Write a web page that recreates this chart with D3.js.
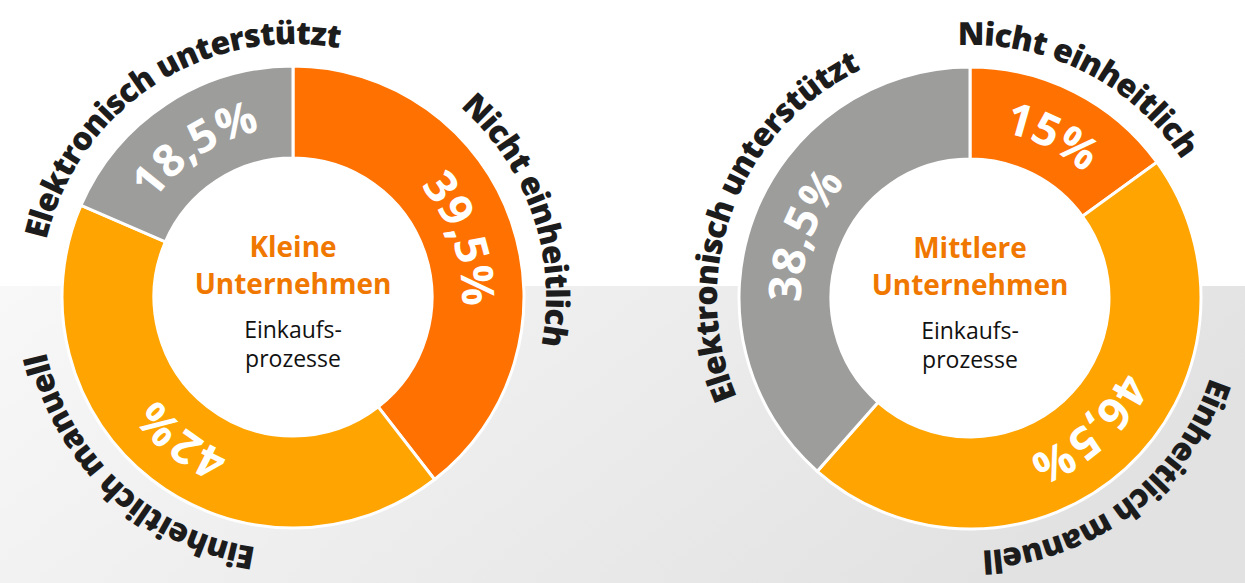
<!DOCTYPE html>
<html>
<head>
<meta charset="utf-8">
<script src="https://cdn.jsdelivr.net/npm/d3@7"></script>
<style>
  html, body { margin: 0; padding: 0; background: #fff; }
  svg { display: block; font-family: "Open Sans", sans-serif; }
  .pct { fill: #fff; font-weight: 700; font-size: 45px; }
  .cat { fill: #1c1c1c; font-weight: 800; font-size: 32px; letter-spacing: -0.8px; }
  .title { fill: #f07800; font-weight: 700; font-size: 28px; }
  .sub { fill: #111; font-size: 23px; }
</style>
</head>
<body>
<div id="chart"></div>
<script>
// data
const categories = ['Nicht einheitlich', 'Einheitlich manuell', 'Elektronisch unterstützt'];
const kleineValues = [39.5, 42, 18.5];
const mittlereValues = [15, 46.5, 38.5];
const titles = [['Kleine', 'Unternehmen'], ['Mittlere', 'Unternehmen']];
const subtitle = ['Einkaufs-', 'prozesse'];
const colors = ['#ff7100', '#ffa400', '#9d9d9c'];

const WIDTH = 1245;
const HEIGHT = 583;
const R_OUTER = 231;
const R_INNER = 139;
const CENTERS = [[293, 297], [970, 298]];
// small nudge of the outer labels along the ring (degrees)
const LABEL_SHIFT = [0, 5, 0];

const fmt = v => String(v).replace('.', ',') + '%';

const $svg = d3.select('#chart').append('svg')
  .attr('width', WIDTH)
  .attr('height', HEIGHT);

// background: grey band on the lower half
const grad = $svg.append('defs').append('linearGradient')
  .attr('id', 'bg-grad')
  .attr('x1', 0).attr('x2', 1).attr('y1', 0).attr('y2', 0.3);
grad.append('stop').attr('offset', 0).attr('stop-color', '#f8f8f8');
grad.append('stop').attr('offset', 1).attr('stop-color', '#e2e2e2');

$svg.append('rect')
  .attr('x', 0).attr('y', 286)
  .attr('width', WIDTH).attr('height', HEIGHT - 286)
  .attr('fill', 'url(#bg-grad)');

const pie = d3.pie().sort(null).value(d => d);
const arc = d3.arc().innerRadius(R_INNER).outerRadius(R_OUTER);

// clockwise circle starting opposite of `mid` so the middle of the path lies at `mid`
function circlePath(r, mid) {
  const a0 = mid - Math.PI;
  const p0 = [r * Math.sin(a0), -r * Math.cos(a0)];
  const p1 = [-p0[0], -p0[1]];
  return `M${p0[0]},${p0[1]}A${r},${r} 0 1 1 ${p1[0]},${p1[1]}A${r},${r} 0 1 1 ${p0[0]},${p0[1]}`;
}

[kleineValues, mittlereValues].forEach((values, ci) => {
  const [cx, cy] = CENTERS[ci];
  const $g = $svg.append('g').attr('transform', `translate(${cx},${cy})`);
  const arcs = pie(values);

  // white hole
  $g.append('circle')
    .attr('r', R_INNER)
    .attr('fill', '#fff');

  $g.selectAll('path.slice')
    .data(arcs)
    .join('path')
    .attr('class', 'slice')
    .attr('d', arc)
    .attr('fill', (d, i) => colors[i])
    .attr('stroke', '#fff')
    .attr('stroke-width', 3);

  // guide paths for curved labels
  const $defs = $g.append('defs');
  arcs.forEach((d, i) => {
    const mid = (d.startAngle + d.endAngle) / 2;
    $defs.append('path')
      .attr('id', `pct-${ci}-${i}`)
      .attr('d', circlePath(169, mid));
    $defs.append('path')
      .attr('id', `cat-${ci}-${i}`)
      .attr('d', circlePath(253, mid + LABEL_SHIFT[i] * Math.PI / 180));
  });

  $g.selectAll('text.pct')
    .data(arcs)
    .join('text')
    .attr('class', 'pct')
    .append('textPath')
    .attr('href', (d, i) => `#pct-${ci}-${i}`)
    .attr('startOffset', '50%')
    .attr('text-anchor', 'middle')
    .text(d => fmt(d.data));

  $g.selectAll('text.cat')
    .data(arcs)
    .join('text')
    .attr('class', 'cat')
    .append('textPath')
    .attr('href', (d, i) => `#cat-${ci}-${i}`)
    .attr('startOffset', '50%')
    .attr('text-anchor', 'middle')
    .text((d, i) => categories[i]);

  // centre text
  $g.selectAll('text.title')
    .data(titles[ci])
    .join('text')
    .attr('class', 'title')
    .attr('text-anchor', 'middle')
    .attr('y', (d, i) => -40 + i * 37)
    .text(d => d);

  $g.selectAll('text.sub')
    .data(subtitle)
    .join('text')
    .attr('class', 'sub')
    .attr('text-anchor', 'middle')
    .attr('y', (d, i) => 41 + i * 29)
    .text(d => d);
});
</script>
</body>
</html>
